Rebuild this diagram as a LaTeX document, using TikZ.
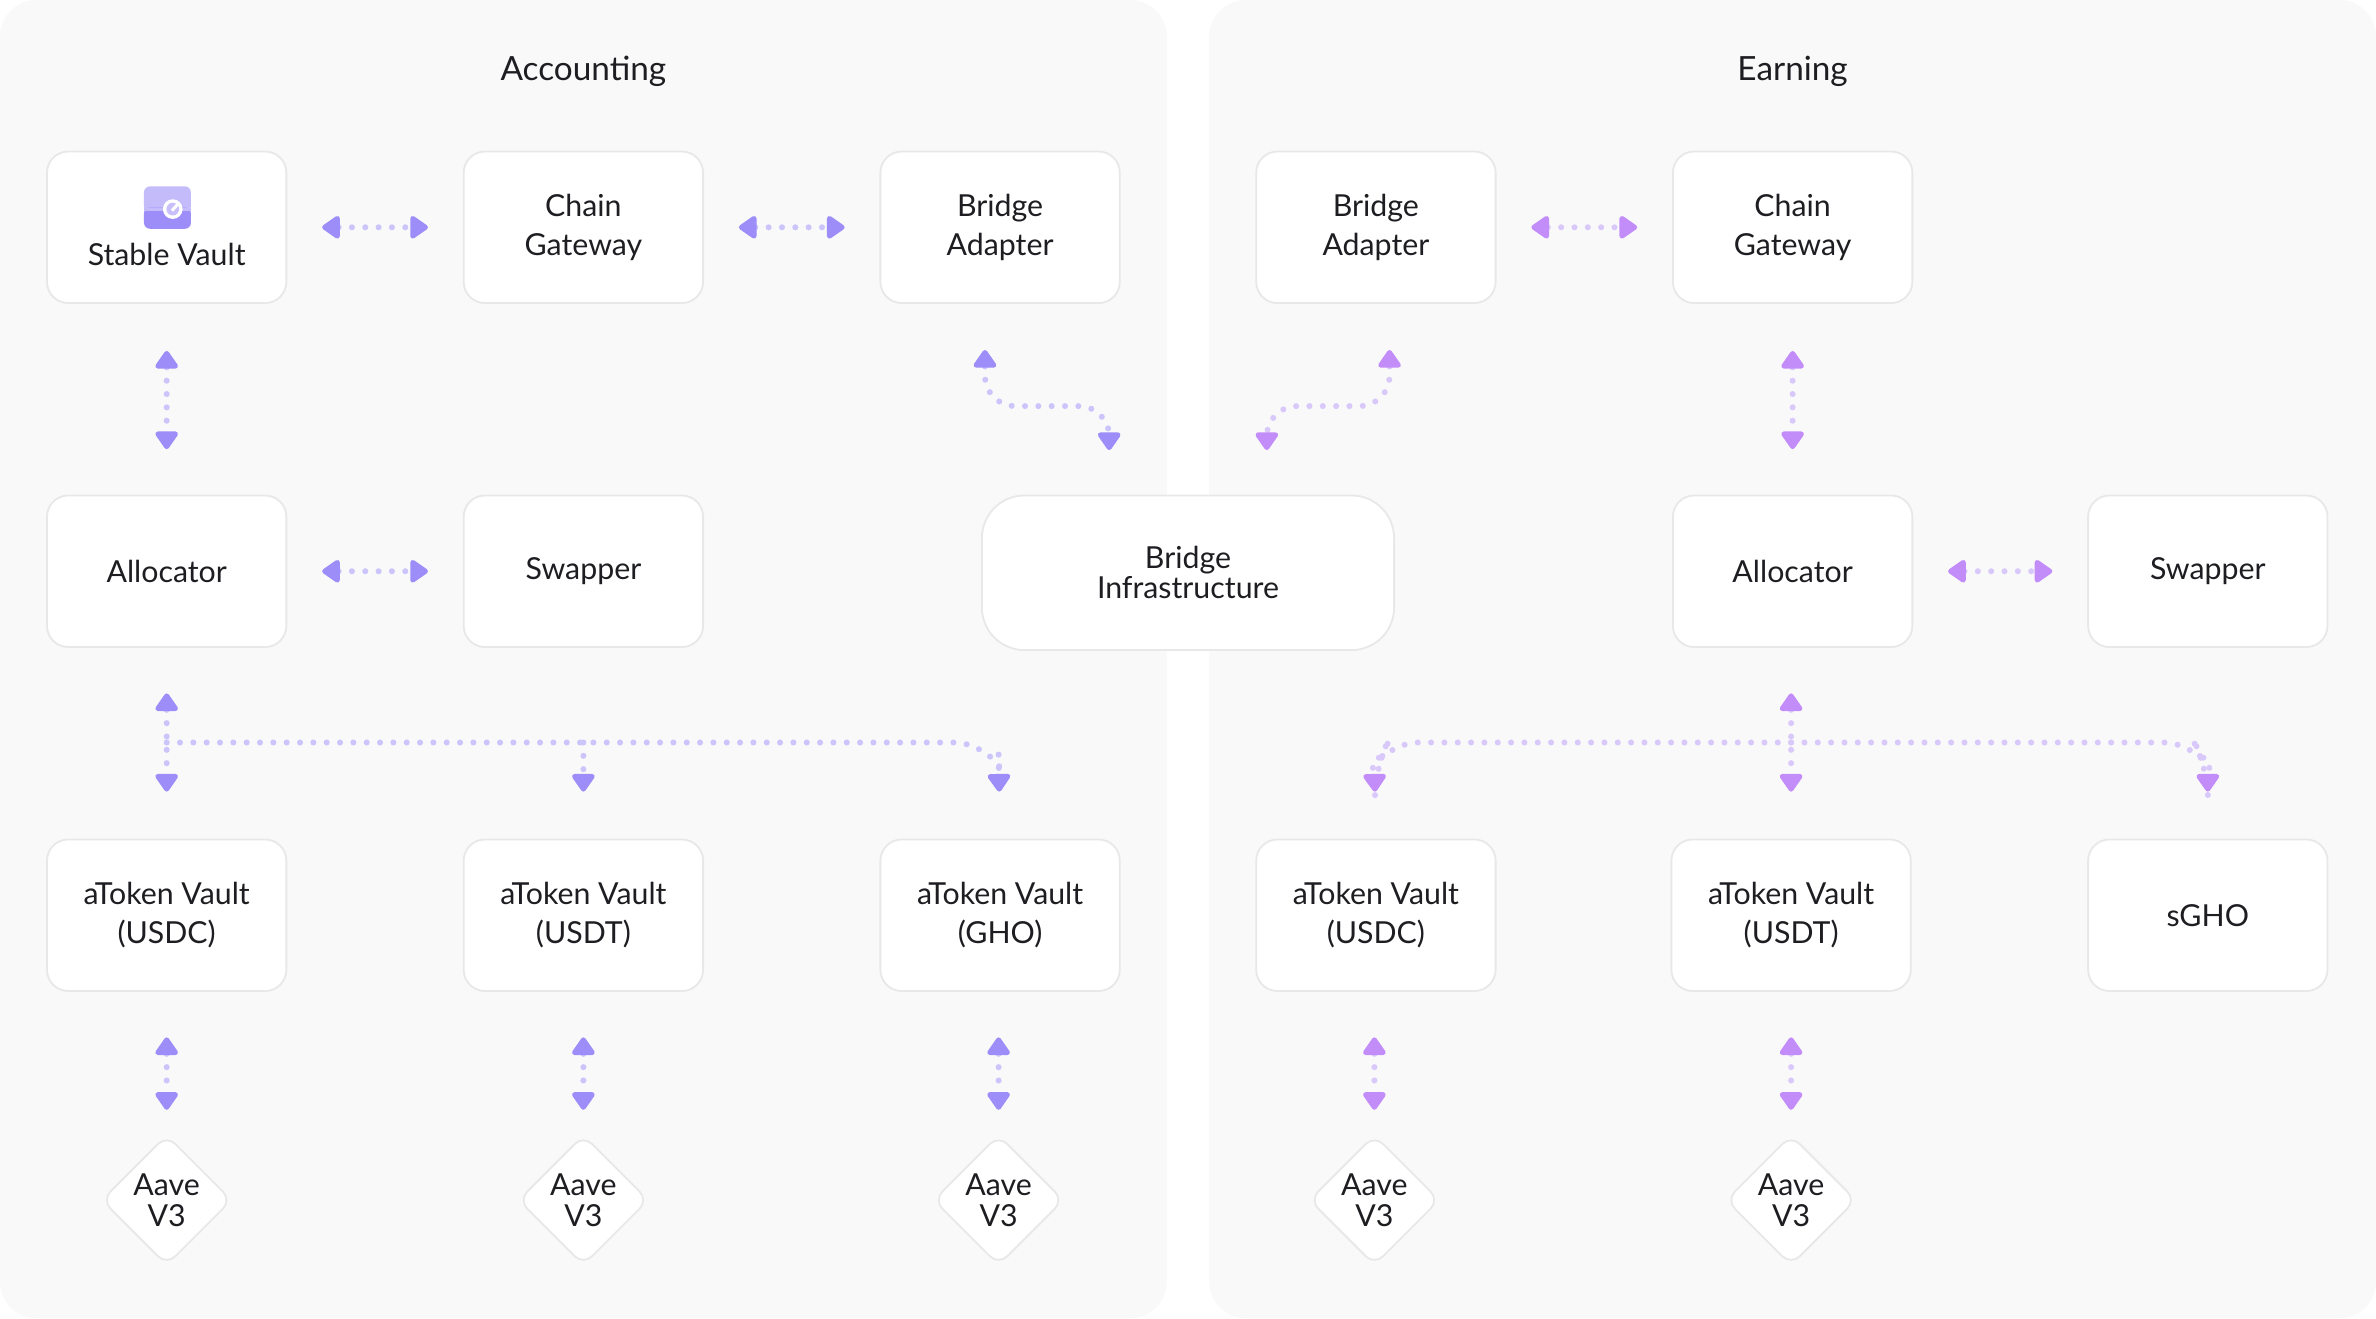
\documentclass[tikz,border=0pt]{standalone}
\usepackage{fontspec}
\setmainfont{Lato}
\usetikzlibrary{arrows.meta,shapes.geometric,calc}
\definecolor{panelbg}{HTML}{F9F9F9}
\definecolor{boxline}{HTML}{E8E8E8}
\definecolor{ltip}{HTML}{9D8DF8}
\definecolor{ldot}{HTML}{CBC5FB}
\definecolor{rtip}{HTML}{C28CF9}
\definecolor{rdot}{HTML}{D9C9FB}
\definecolor{txt}{HTML}{1E1E22}

\tikzset{
  box/.style={draw=boxline, fill=white, rounded corners=7pt, line width=0.6pt,
    minimum width=79pt, minimum height=50pt, align=center, text=txt, font=\fontsize{10}{13}\selectfont},
  aave/.style={diamond, draw=boxline, fill=white, rounded corners=4pt, line width=0.6pt,
    minimum size=43pt, inner sep=0pt, align=center, text=txt, font=\fontsize{10}{10}\selectfont},
  dots/.style={line width=2pt, line cap=round, dash pattern=on 0pt off 4.4pt},
  tip/.style={Triangle[round,length=6.5pt,width=8.5pt,color=#1]},
  lcon/.style={dots, draw=ldot, {Triangle[round,length=6.5pt,width=8.5pt,color=ltip]}-{Triangle[round,length=6.5pt,width=8.5pt,color=ltip]}},
  rcon/.style={dots, draw=rdot, {Triangle[round,length=6.5pt,width=8.5pt,color=rtip]}-{Triangle[round,length=6.5pt,width=8.5pt,color=rtip]}},
  lone/.style={dots, draw=ldot, -{Triangle[round,length=6.5pt,width=8.5pt,color=ltip]}},
  rone/.style={dots, draw=rdot, -{Triangle[round,length=6.5pt,width=8.5pt,color=rtip]}},
  title/.style={text=txt, font=\fontsize{11}{12}\selectfont},
}

\begin{document}
\begin{tikzpicture}[x=0.5pt,y=0.5pt,yscale=-1]
\useasboundingbox (0,0) rectangle (1568,870);

% panels
\fill[panelbg, rounded corners=12pt] (0,0) rectangle (770,870);
\fill[panelbg, rounded corners=12pt] (798,0) rectangle (1568,870);
\node[title] (acc) at (385,47) {Accounting};
\node[title] (earn) at (1183,47) {Earning};

% accounting side
\node[box] (vault) at (110,150) {\\[12pt]Stable Vault};
\node[box] (lgate) at (385,150) {Chain\\Gateway};
\node[box] (ladapt) at (660,150) {Bridge\\Adapter};
\node[box] (lalloc) at (110,377) {Allocator};
\node[box] (lswap) at (385,377) {Swapper};
\node[box] (lusdc) at (110,604) {aToken Vault\\(USDC)};
\node[box] (lusdt) at (385,604) {aToken Vault\\(USDT)};
\node[box] (lgho) at (660,604) {aToken Vault\\(GHO)};
\node[aave] (aave1) at (110,792) {Aave\\V3};
\node[aave] (aave2) at (385,792) {Aave\\V3};
\node[aave] (aave3) at (659,792) {Aave\\V3};

% vault icon
\fill[ltip!60, rounded corners=2pt] (95,123) rectangle (126,140);
\fill[ltip, rounded corners=2pt] (95,137) rectangle (126,151);
\fill[ltip!60] (95,137) rectangle (126,139);
\fill[white] (114,138) circle (6.5);
\fill[ltip!55] (114,138) circle (4.2);
\draw[white, line width=1pt] (113.5,139) -- (117.5,134.5);

% bridge
\node[box, minimum width=136pt, minimum height=51pt, rounded corners=14pt] (bridge) at (784,378) {Bridge\\[-3pt]Infrastructure};

% earning side
\node[box] (radapt) at (908,150) {Bridge\\Adapter};
\node[box] (rgate) at (1183,150) {Chain\\Gateway};
\node[box] (ralloc) at (1183,377) {Allocator};
\node[box] (rswap) at (1457,377) {Swapper};
\node[box] (rusdc) at (908,604) {aToken Vault\\(USDC)};
\node[box] (rusdt) at (1182,604) {aToken Vault\\(USDT)};
\node[box] (sgho) at (1457,604) {sGHO};
\node[aave] (aave4) at (907,792) {Aave\\V3};
\node[aave] (aave5) at (1182,792) {Aave\\V3};

% connectors, accounting
\draw[lcon, shorten <=11.5pt, shorten >=11.5pt] (vault.east) -- (lgate.west);
\draw[lcon, shorten <=11.5pt, shorten >=11.5pt] (lgate.east) -- (ladapt.west);
\draw[lcon, shorten <=15.5pt, shorten >=15pt] (vault.south) -- (lalloc.north);
\draw[lcon, shorten <=11.5pt, shorten >=11.5pt] (lalloc.east) -- (lswap.west);
\draw[lcon, shorten <=15pt, shorten >=15.5pt] (lalloc.south) -- (lusdc.north);
\coordinate (lbus) at (110,490);
\draw[dots, draw=ldot, rounded corners=10pt] (lbus) -- (650,490) -- (659,505);
\draw[lone, shorten >=15.5pt] (lbus -| lusdt) -- (lusdt.north);
\draw[lone, shorten >=15.5pt] (lbus -| 659,0) ++(0,8) -- (lgho.north);
\draw[lcon, shorten <=15pt, shorten >=8pt] (lusdc.south) -- (aave1.north);
\draw[lcon, shorten <=15pt, shorten >=8pt] (lusdt.south) -- (aave2.north);
\draw[lcon, shorten <=15pt, shorten >=8pt] (lgho.south -| aave3) -- (aave3.north);
\coordinate (lbend) at (732,327);
\draw[lcon, rounded corners=10pt, shorten <=15.5pt, shorten >=15pt] (650,200) -- (650,268) -- (732,268) -- (lbend);

% connectors, earning
\coordinate (rbend) at (836,327);
\draw[rcon, rounded corners=10pt, shorten <=15.5pt, shorten >=15pt] (917,200) -- (917,268) -- (836,268) -- (rbend);
\draw[rcon, shorten <=11.5pt, shorten >=11.5pt] (radapt.east) -- (rgate.west);
\draw[rcon, shorten <=15.5pt, shorten >=15pt] (rgate.south) -- (ralloc.north);
\draw[rcon, shorten <=11.5pt, shorten >=11.5pt] (ralloc.east) -- (rswap.west);
\draw[rcon, shorten <=15pt, shorten >=15.5pt] (ralloc.south -| rusdt) -- (rusdt.north);
\coordinate (rbus) at (1182,490);
\draw[rone, rounded corners=10pt, shorten >=15.5pt] (rbus) -- (916,490) -- (907,505) -- (rusdc.north);
\draw[rone, rounded corners=10pt, shorten >=15.5pt] (rbus) -- (1448,490) -- (1457,505) -- (sgho.north);
\draw[rcon, shorten <=15pt, shorten >=8pt] (rusdc.south -| aave4) -- (aave4.north);
\draw[rcon, shorten <=15pt, shorten >=8pt] (rusdt.south) -- (aave5.north);
\end{tikzpicture}
\end{document}
